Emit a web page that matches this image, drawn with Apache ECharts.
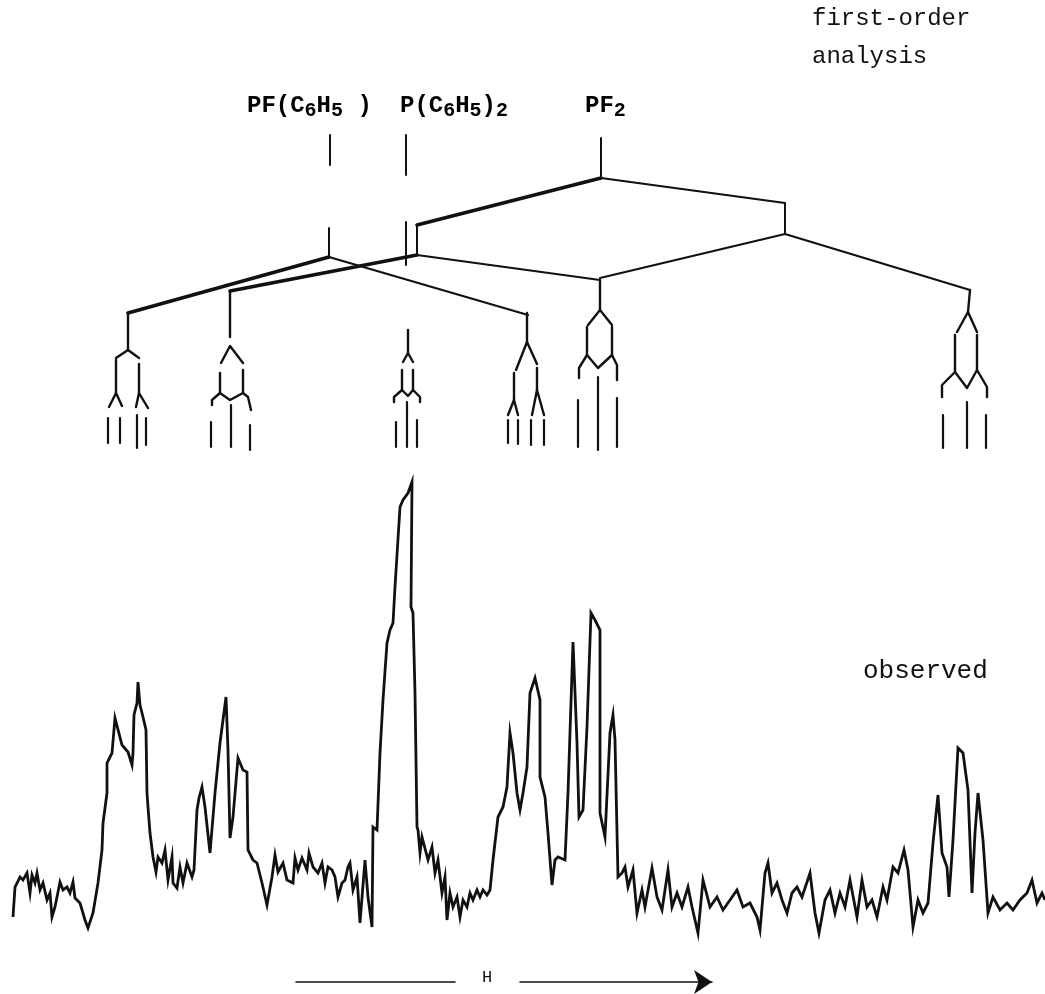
<!DOCTYPE html>
<html><head><meta charset="utf-8">
<script src="https://cdn.jsdelivr.net/npm/echarts@6/dist/echarts.min.js"></script>
<style>html,body{margin:0;padding:0;background:#fff}#c{width:1045px;height:994px}</style>
</head><body><div id="c"></div>
<script>
// Observed spectrum: field position (x) and intensity
const specX = [13,15,20,23,27,30,32,35,37,40,43,47,50,52,55,60,63,67,70,73,75,80,85,88,93,98,102,103,107,107,112,115,122,128,132,133,134,137,138,140,143,146,147,148,150,153,156,158,162,165,168,172,173,177,180,183,187,192,194,197,199,202,205,210,215,220,226,228,230,233,238,243,247,248,253,257,262,267,272,275,278,283,287,293,295,298,302,307,309,313,318,322,325,328,332,335,338,342,345,348,350,353,357,360,365,368,372,373,377,380,383,387,390,393,395,400,403,408,412,411,413,415,417,418,420,422,428,432,435,438,442,445,447,450,453,457,460,463,467,470,473,477,480,483,487,490,493,498,503,507,510,513,517,520,523,527,530,535,540,540,545,548,552,555,558,565,568,573,577,579,583,587,591,595,600,600,605,610,613,615,618,622,625,628,633,637,642,645,652,657,662,668,672,677,682,688,692,698,703,710,717,723,730,737,743,750,757,760,765,768,772,777,782,787,792,797,802,810,815,819,825,830,835,840,845,850,857,862,867,872,877,883,887,893,898,904,908,913,918,923,928,933,938,942,947,949,953,958,963,968,972,975,978,983,988,993,1000,1007,1013,1020,1027,1032,1037,1042,1045];
const specI = [33,63,73,70,77,57,75,67,77,60,67,50,57,33,43,68,60,63,57,68,52,47,30,22,37,67,100,127,157,187,197,232,205,198,185,197,235,247,268,245,233,220,157,143,117,93,78,93,87,100,70,93,67,62,83,67,87,73,80,140,152,163,143,97,157,207,253,200,112,133,192,180,178,100,90,87,67,45,73,95,78,87,70,67,92,80,92,80,97,83,77,87,67,83,80,73,53,67,70,83,87,60,73,27,90,53,23,123,120,197,250,307,320,327,363,443,450,457,468,343,337,257,123,120,97,113,90,103,77,90,57,73,30,57,43,53,33,50,43,57,50,60,53,60,55,60,90,133,143,163,217,197,157,140,157,183,257,272,250,173,153,117,65,90,93,90,157,308,207,133,140,223,337,330,320,137,113,217,235,210,73,77,83,63,80,37,60,43,82,53,40,80,43,57,43,63,43,17,70,43,53,40,50,60,43,47,33,20,77,87,57,67,50,37,57,63,53,77,37,17,50,60,37,57,43,70,33,70,43,50,33,63,50,83,77,100,80,23,50,37,47,107,155,97,83,53,110,202,197,160,57,117,157,110,37,53,40,47,40,50,57,70,47,57,50];

// First-order analysis diagram (field position, diagram depth)
const stems = [
  [[330,135],[330,165]], [[329,228],[329,257]],
  [[406,135],[406,175]], [[406,222],[406,265]],
  [[601,138],[601,178]],
  [[417,225],[417,255]], [[785,203],[785,234]]
];
const heavyBranches = [
  [[601,178],[417,225]],
  [[417,255],[230,291]],
  [[329,257],[128,313]]
];
const lightBranches = [
  [[601,178],[785,203]],
  [[417,255],[600,280]],
  [[600,278],[785,234],[970,290]],
  [[329,257],[528,315]]
];
const multiplets = [
  // 128
  [[128,313],[128,350]], [[116,358],[128,350],[139,358]],
  [[116,360],[116,393]], [[139,364],[139,393]],
  [[109,407],[116,393],[122,406]], [[136,407],[139,393],[148,408]],
  // 230
  [[230,291],[230,337]], [[221,363],[230,346],[243,363]],
  [[220,373],[220,393]], [[243,370],[243,393]],
  [[212,405],[212,400],[220,393],[230,400],[243,393],[248,397],[251,410]],
  // 408
  [[408,330],[408,353]], [[403,362],[408,353],[413,362]],
  [[402,370],[402,390]], [[413,370],[413,390]],
  [[394,402],[394,397],[402,390],[408,396],[413,390],[420,397],[420,402]],
  // 527
  [[527,313],[527,342]], [[516,370],[527,342],[537,364]],
  [[514,373],[514,400]], [[537,368],[537,390]],
  [[508,415],[514,400],[518,415]], [[532,415],[537,390],[544,415]],
  // 600
  [[600,280],[600,310]], [[588,325],[600,310],[612,325]],
  [[587,327],[587,355]], [[612,327],[612,355]],
  [[579,378],[579,368],[587,355],[598,368],[612,355],[617,365],[617,380]],
  // 968
  [[970,290],[968,312]], [[957,332],[968,312],[977,332]],
  [[955,335],[955,372]], [[977,335],[977,370]],
  [[942,397],[942,385],[955,372],[967,388],[977,370],[987,387],[987,397]]
];
const sticks = [
  [[108,418],[108,443]], [[120,418],[120,443]], [[137,415],[137,448]], [[146,418],[146,445]],
  [[211,422],[211,447]], [[231,405],[231,447]], [[250,425],[250,450]],
  [[396,422],[396,447]], [[407,402],[407,447]], [[417,420],[417,447]],
  [[508,420],[508,443]], [[518,420],[518,444]], [[531,420],[531,445]], [[544,420],[544,445]],
  [[578,400],[578,447]], [[598,377],[598,450]], [[617,398],[617,447]],
  [[943,415],[943,448]], [[967,402],[967,448]], [[986,415],[986,448]]
];
const fieldArrowLeft = [[[296,982],[455,982]]];
const fieldArrowRight = [[[520,982],[712,982]]];

const INK = '#111';
const chart = echarts.init(document.getElementById('c'), null, {renderer:'canvas'});
const toLines = a => a.map(c => ({coords: c}));
function linesSeries(arr, width, extra) {
  return Object.assign({
    type:'lines', coordinateSystem:'cartesian2d', xAxisIndex:0, yAxisIndex:0,
    polyline:true, silent:true, data: toLines(arr),
    lineStyle:{color:INK, width:width, opacity:1, cap:'round', join:'round'}
  }, extra || {});
}
const mono = '"Liberation Mono", "DejaVu Sans Mono", monospace';
const labelRich = {
  m:{fontFamily:mono, fontSize:24, fontWeight:'bold', lineHeight:30, color:INK},
  s:{fontFamily:mono, fontSize:20, fontWeight:'bold', lineHeight:20, verticalAlign:'bottom', color:INK}
};
const option = {
  animation:false,
  backgroundColor:'#fff',
  grid:[{left:0,right:0,top:0,bottom:0},{left:0,right:0,top:470,bottom:44}],
  xAxis:[{type:'value',min:0,max:1045,show:false,gridIndex:0},{type:'value',min:0,max:1045,show:false,gridIndex:1}],
  yAxis:[{type:'value',min:0,max:994,inverse:true,show:false,gridIndex:0},{type:'value',min:0,max:480,show:false,gridIndex:1}],
  series:[
    linesSeries(stems, 2),
    linesSeries(heavyBranches, 3.6),
    linesSeries(lightBranches, 2.2),
    linesSeries(multiplets, 2.4),
    linesSeries(sticks, 2.2),
    linesSeries(fieldArrowLeft, 1.5),
    linesSeries(fieldArrowRight, 1.5, {polyline:false, symbol:['none','arrow'], symbolSize:[11,18],
      itemStyle:{color:INK}}),
    {type:'line', xAxisIndex:1, yAxisIndex:1, data: specX.map((x,i)=>[x, specI[i]]),
     showSymbol:false, symbol:'none', silent:true,
     lineStyle:{color:INK, width:2.8, join:'miter'}}
  ],
  graphic:[
    {type:'text', left:812, top:0, style:{text:'first-order\nanalysis', font:'24px '+mono, fill:INK, lineHeight:38}},
    {type:'text', left:247, top:94, style:{text:'{m|PF(C}{s|6}{m|H}{s|5}{m| )}', rich:labelRich}},
    {type:'text', left:400, top:94, style:{text:'{m|P(C}{s|6}{m|H}{s|5}{m|)}{s|2}', rich:labelRich}},
    {type:'text', left:585, top:94, style:{text:'{m|PF}{s|2}', rich:labelRich}},
    {type:'text', left:863, top:658, style:{text:'observed', font:'26px '+mono, fill:INK}},
    {type:'text', left:482, top:969, style:{text:'H', font:'17px '+mono, fill:INK}}
  ]
};
chart.setOption(option);
</script></body></html>
